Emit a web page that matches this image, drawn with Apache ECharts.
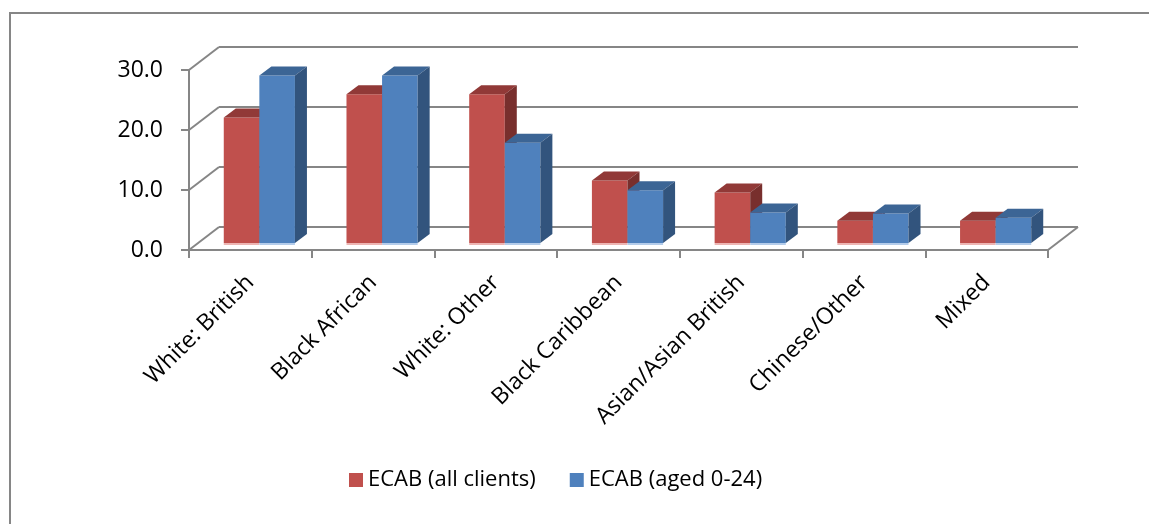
<!DOCTYPE html>
<html>
<head>
<meta charset="utf-8">
<script src="https://cdn.jsdelivr.net/npm/echarts@6/dist/echarts.min.js"></script>
<style>
  html, body { margin: 0; padding: 0; background: #ffffff; }
  #chart { width: 1149px; height: 524px; }
</style>
</head>
<body>
<div id="chart"></div>
<script>
// Ethnicity breakdown of ECAB clients (percent)
const categories = ['White: British', 'Black African', 'White: Other', 'Black Caribbean', 'Asian/Asian British', 'Chinese/Other', 'Mixed'];
const allClients = [20.9, 24.8, 24.8, 10.4, 8.4, 3.7, 3.7];
const aged0to24 = [27.9, 27.9, 16.7, 8.8, 5.1, 4.9, 4.2];
const yTicks = [0, 10, 20, 30];
const seriesNames = ['ECAB (all clients)', 'ECAB (aged 0-24)'];

// Pseudo-3D projection offsets (pixels)
const WALL_DX = 30, WALL_DY = -23;   // depth of the back wall
const BAR_DX = 9, BAR_DY = -7;       // where the bar front faces sit in depth
const DEPTH_DX = 12, DEPTH_DY = -9;  // thickness of a bar in depth
const BAR_FRAC = 0.29;               // bar width as a share of a category band
const GRID_COLOR = '#868686';

const palette = {
  red:  { front: '#C0504D', top: '#913937', side: '#782F2D', base: '#EDB5B3' },
  blue: { front: '#4F81BD', top: '#3C6595', side: '#32547D', base: '#B4CCEA' }
};

const chart = echarts.init(document.getElementById('chart'), null, { renderer: 'canvas' });

// Back wall, side wall and floor outline
function renderWalls(params, api) {
  const v = api.value(1);
  const band = api.size([1, 0])[0];
  const first = api.coord([0, v]);
  const last = api.coord([categories.length - 1, v]);
  const left = first[0] - band / 2;
  const right = last[0] + band / 2;
  const y = first[1];
  const style = { stroke: GRID_COLOR, lineWidth: 2, fill: null };
  const children = [
    { type: 'line', shape: { x1: left, y1: y, x2: left + WALL_DX, y2: y + WALL_DY }, style },
    { type: 'line', shape: { x1: left + WALL_DX, y1: y + WALL_DY, x2: right + WALL_DX, y2: y + WALL_DY }, style }
  ];
  if (v === yTicks[0]) {
    children.push({ type: 'line', shape: { x1: right, y1: y, x2: right + WALL_DX, y2: y + WALL_DY }, style });
  }
  return { type: 'group', children };
}

// A single 3D column: front face, top face and right side face
function makeBarRenderer(side, col) {
  return function (params, api) {
    const i = api.value(0);
    const v = api.value(1);
    const base = api.coord([i, 0]);
    const top = api.coord([i, v]);
    const bw = api.size([1, 0])[0] * BAR_FRAC;
    const x0 = side < 0 ? base[0] - bw : base[0];
    const xl = x0 + BAR_DX, xr = x0 + bw + BAR_DX;
    const yb = base[1] + BAR_DY, yt = top[1] + BAR_DY;
    return {
      type: 'group',
      children: [
        { type: 'rect', shape: { x: xl, y: yb, width: bw, height: 2 }, style: { fill: col.base } },
        { type: 'rect', shape: { x: xl, y: yt, width: bw, height: yb - yt }, style: { fill: col.front } },
        { type: 'polygon', shape: { points: [[xl, yt], [xr, yt], [xr + DEPTH_DX, yt + DEPTH_DY], [xl + DEPTH_DX, yt + DEPTH_DY]] }, style: { fill: col.top } },
        { type: 'polygon', shape: { points: [[xr, yt], [xr + DEPTH_DX, yt + DEPTH_DY], [xr + DEPTH_DX, yb + DEPTH_DY], [xr, yb]] }, style: { fill: col.side } }
      ]
    };
  };
}

const font = '"Open Sans", "Noto Sans", sans-serif';

chart.setOption({
  animation: false,
  backgroundColor: '#ffffff',
  graphic: [{
    type: 'rect',
    shape: { x: 10, y: 13, width: 1300, height: 700 },
    style: { fill: null, stroke: GRID_COLOR, lineWidth: 2 },
    silent: true
  }],
  grid: { left: 189, right: 101, top: 70, bottom: 274, containLabel: false },
  legend: {
    left: 344,
    top: 464,
    itemWidth: 14,
    itemHeight: 14,
    itemGap: 34,
    icon: 'rect',
    data: seriesNames,
    textStyle: { fontFamily: font, fontSize: 22, color: '#000000' }
  },
  xAxis: {
    type: 'category',
    data: categories,
    boundaryGap: true,
    axisLine: { show: true, lineStyle: { color: GRID_COLOR, width: 2 } },
    axisTick: { show: true, interval: 0, length: 8, lineStyle: { color: GRID_COLOR, width: 2 } },
    axisLabel: { interval: 0, rotate: 45, margin: 29, fontFamily: font, fontSize: 23, color: '#000000' },
    splitLine: { show: false }
  },
  yAxis: {
    type: 'value',
    min: 0,
    max: 30,
    interval: 10,
    axisLine: { show: true, lineStyle: { color: GRID_COLOR, width: 2 } },
    axisTick: { show: true, length: 8, lineStyle: { color: GRID_COLOR, width: 2 } },
    axisLabel: { margin: 26, fontFamily: font, fontSize: 23, color: '#000000', formatter: v => v.toFixed(1) },
    splitLine: { show: false }
  },
  series: [
    {
      type: 'custom',
      name: 'walls',
      silent: true,
      renderItem: renderWalls,
      data: yTicks.map(v => [0, v]),
      z: 1
    },
    {
      type: 'custom',
      name: seriesNames[0],
      itemStyle: { color: palette.red.front },
      renderItem: makeBarRenderer(-1, palette.red),
      data: allClients.map((v, i) => [i, v]),
      z: 2
    },
    {
      type: 'custom',
      name: seriesNames[1],
      itemStyle: { color: palette.blue.front },
      renderItem: makeBarRenderer(1, palette.blue),
      data: aged0to24.map((v, i) => [i, v]),
      z: 3
    }
  ]
});
</script>
</body>
</html>
